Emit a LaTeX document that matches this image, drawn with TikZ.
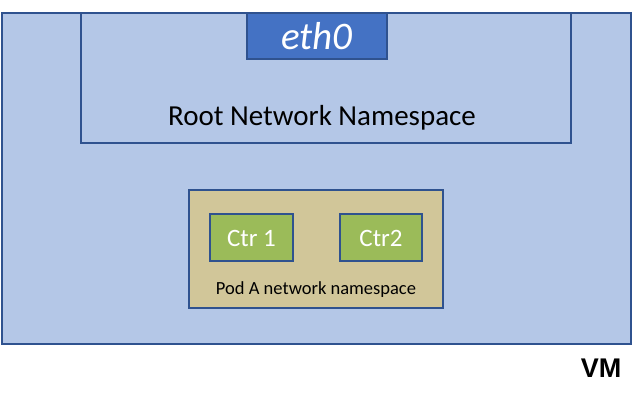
\documentclass[tikz,border=0pt]{standalone}
\usepackage{fontspec}
\setmainfont{Carlito}
\newfontfamily\vmfont{Liberation Sans}
\definecolor{vmfill}{HTML}{B4C7E7}
\definecolor{edge}{HTML}{2F528F}
\definecolor{ethfill}{HTML}{4472C4}
\definecolor{podfill}{HTML}{D1C699}
\definecolor{ctrfill}{HTML}{9BBB59}
\begin{document}
\begin{tikzpicture}[x=1pt,y=-1pt,
  box/.style={draw=edge, line width=1.3pt, inner sep=0pt, outer sep=0pt},
  lbl/.style={inner sep=0pt, anchor=center}]
\useasboundingbox (0,0) rectangle (641,406);
\fill[white] (0,0) rectangle (641,406);
% VM
\draw[box, fill=vmfill] (2,13) rectangle (631,344);
\node[lbl, font=\vmfont\bfseries\fontsize{27}{32}\selectfont] (vm) at (601,368) {VM};
% Root namespace
\draw[box, fill=vmfill] (81,13) rectangle (571,143);
\node[lbl, font=\fontsize{29}{34}\selectfont] (root) at (322,118) {Root Network Namespace};
% eth0
\draw[box, fill=ethfill] (247,13) rectangle (387,59);
\node[lbl, text=white, font=\itshape\fontsize{39}{44}\selectfont] (eth) at (317,36) {eth0};
% Pod
\draw[box, fill=podfill] (189,190) rectangle (443,308);
\node[lbl, font=\fontsize{18.5}{22}\selectfont] (pod) at (316,290) {Pod A network namespace};
% Containers
\draw[box, fill=ctrfill] (210,214) rectangle (293,261);
\node[lbl, text=white, font=\fontsize{25}{30}\selectfont] (c1) at (251.5,238) {Ctr 1};
\draw[box, fill=ctrfill] (340,214) rectangle (422,261);
\node[lbl, text=white, font=\fontsize{25}{30}\selectfont] (c2) at (381,238) {Ctr2};
\end{tikzpicture}
\end{document}
